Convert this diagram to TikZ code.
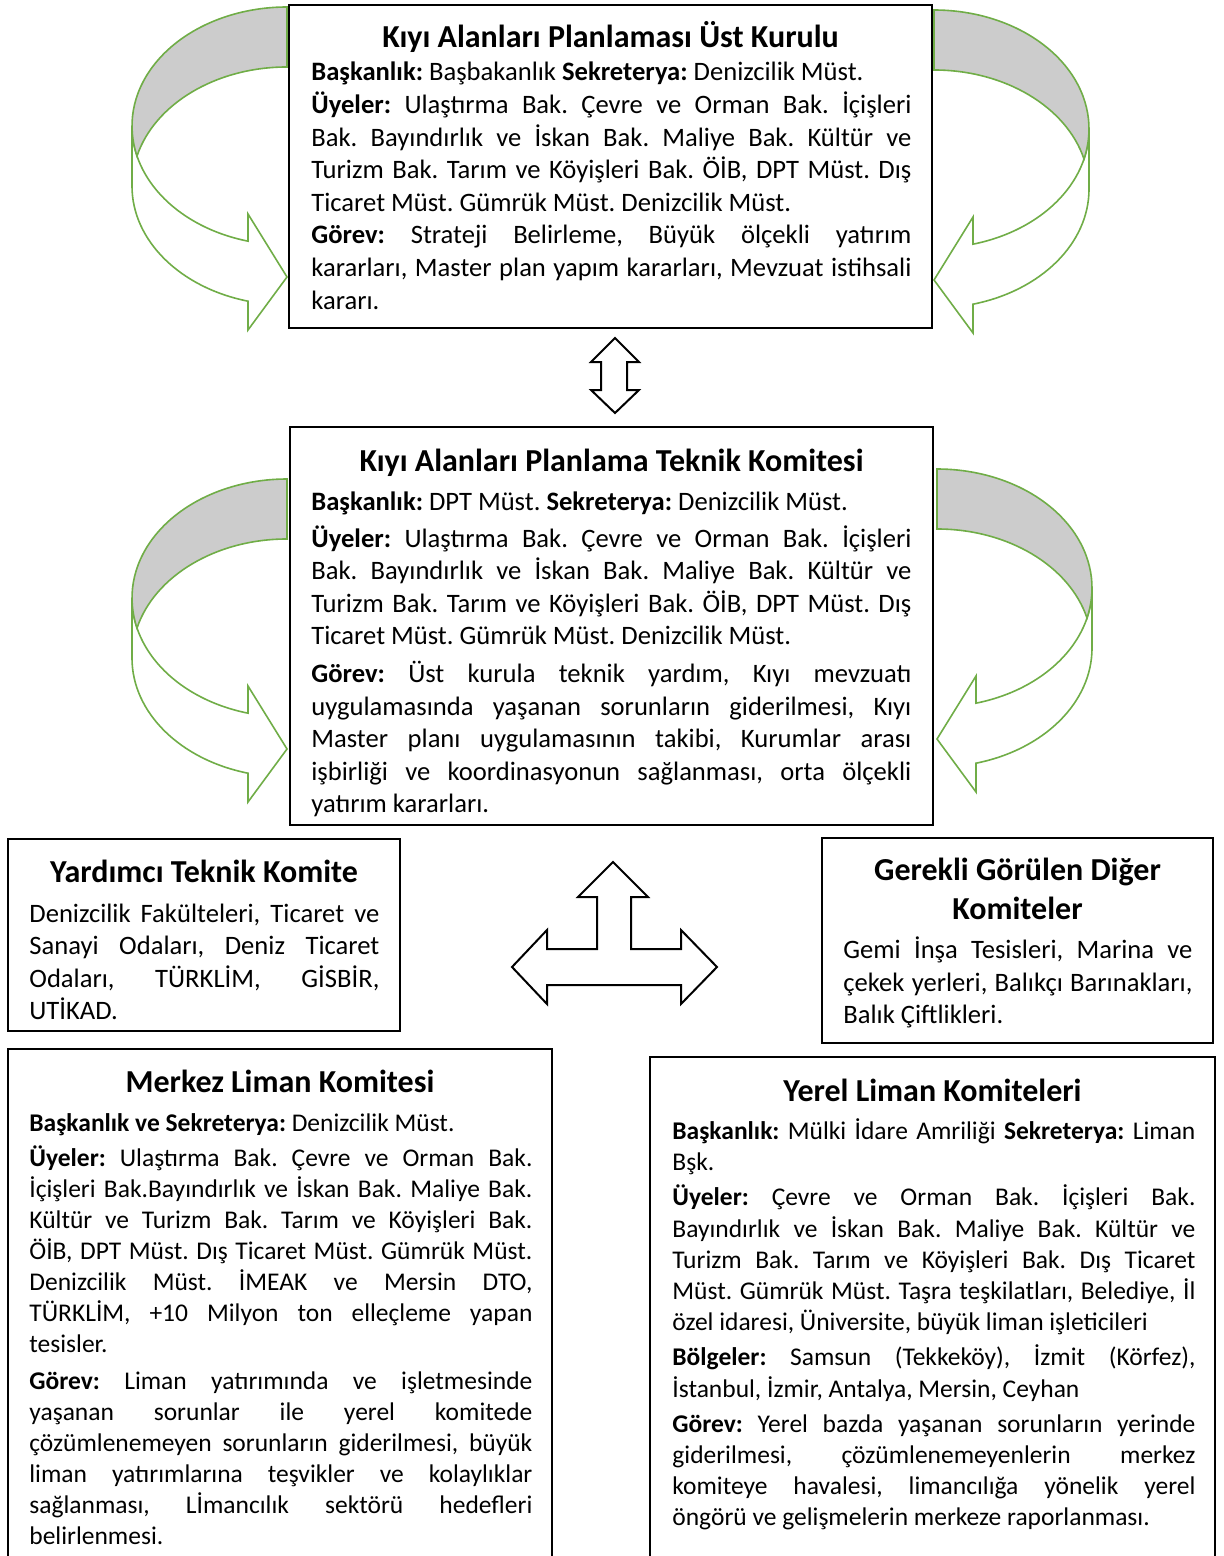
\documentclass[tikz,border=0pt]{standalone}
\usepackage{fontspec}
\setmainfont{Carlito}
\definecolor{arrgreen}{RGB}{112,173,71}
\definecolor{backgray}{RGB}{204,204,204}
\newcommand\JusLine[1]{\hbox to\hsize{#1}}
\newcommand\EndLine[1]{\hbox{#1}}
\newcommand\BodyFont[2]{\frenchspacing\fontsize{#1}{#2}\selectfont}
\tikzset{
  boxn/.style={draw=black, line width=1pt, inner sep=0pt},
  ttl/.style={anchor=base, inner sep=0pt, font=\fontsize{16.0}{20}\selectfont\bfseries},
  txt/.style={anchor=base west, inner sep=0pt},
  curvline/.style={draw=arrgreen, line width=0.8pt, line join=miter},
  blockarrow/.style={draw=black, line width=1pt, fill=white, line join=miter},
}
% curved arrow: #1,#2 = right edge x / top y (px), #3 = +1 (points right) or -1 (mirrored)
\newcommand\CurvArrow[3]{%
  \begin{scope}[shift={(#1,#2)}, xscale=#3]
    \filldraw[curvline, fill=white] (-155,119)
      arc[start angle=180, end angle=104.57, x radius=155, y radius=119]
      -- (-39,207) -- (0,270) -- (-39,323) -- (-39,294.2)
      arc[start angle=104.57, end angle=180, x radius=155, y radius=119]
      -- cycle;
    \filldraw[curvline, fill=backgray] (0,0)
      arc[start angle=270, end angle=165.4, x radius=155, y radius=119]
      arc[start angle=194.6, end angle=270, x radius=155, y radius=119]
      -- cycle;
  \end{scope}}
\begin{document}
\begin{tikzpicture}[x=0.5pt, y=-0.5pt]
\useasboundingbox (0,0) rectangle (1224,1556);
\clip (0,0) rectangle (1224,1556);

% curved arrows
\CurvArrow{287}{7}{1}
\CurvArrow{934}{10}{-1}
\CurvArrow{287}{479}{1}
\CurvArrow{937}{469}{-1}

% boxes
\node[boxn, minimum width=321.5pt, minimum height=161.5pt] (kurul) at (610.5,166.5) {};
\node[boxn, minimum width=321.5pt, minimum height=199pt] (teknik) at (611.5,626) {};
\node[boxn, minimum width=196pt, minimum height=96pt] (yardimci) at (204,935) {};
\node[boxn, minimum width=195.5pt, minimum height=102.5pt] (gerekli) at (1017.5,940.5) {};
\node[boxn, minimum width=272pt, minimum height=275.5pt] (merkez) at (280,1324.5) {};
\node[boxn, minimum width=282.5pt, minimum height=271.5pt] (yerel) at (932.5,1328.5) {};

% block arrows
\draw[blockarrow] (615,338) -- (639,362) -- (627,362) -- (627,390) -- (639,390)
  -- (615,413) -- (591,390) -- (601,390) -- (601,362) -- (591,362) -- cycle;
\draw[blockarrow] (613,862) -- (648,897) -- (631,897) -- (631,949) -- (681,949)
  -- (681,930) -- (717,967) -- (681,1004) -- (681,985) -- (547,985) -- (547,1004)
  -- (512,967) -- (547,930) -- (547,949) -- (597,949) -- (597,897) -- (578,897) -- cycle;

% titles
\node[ttl] (t1) at (610.5,48) {Kıyı Alanları Planlaması Üst Kurulu};
\node[ttl] (t2) at (611.5,471) {Kıyı Alanları Planlama Teknik Komitesi};
\node[ttl] (t3) at (204,882) {Yardımcı Teknik Komite};
\node[ttl] (t4a) at (1017.5,880) {Gerekli Görülen Diğer};
\node[ttl] (t4b) at (1017.5,919) {Komiteler};
\node[ttl] (t5) at (280,1092) {Merkez Liman Komitesi};
\node[ttl] (t6) at (932.5,1101) {Yerel Liman Komiteleri};

% body texts
\node[txt] (x1) at (311,81) {\vtop{\hsize=300pt\BodyFont{13.3}{16.3pt}%
\EndLine{\textbf{Başkanlık:} Başbakanlık \textbf{Sekreterya:} Denizcilik Müst.}
\JusLine{\textbf{Üyeler:} Ulaştırma Bak. Çevre ve Orman Bak. İçişleri}
\JusLine{Bak. Bayındırlık ve İskan Bak. Maliye Bak. Kültür ve}
\JusLine{Turizm Bak. Tarım ve Köyişleri Bak. ÖİB, DPT Müst. Dış}
\EndLine{Ticaret Müst. Gümrük Müst. Denizcilik Müst.}
\JusLine{\textbf{Görev:} Strateji Belirleme, Büyük ölçekli yatırım}
\JusLine{kararları, Master plan yapım kararları, Mevzuat istihsali}
\EndLine{kararı.}}};

\node[txt] (x2) at (311,510.5) {\vtop{\hsize=300pt\BodyFont{13.3}{16.3pt}%
\EndLine{\textbf{Başkanlık:} DPT Müst. \textbf{Sekreterya:} Denizcilik Müst.}
\vskip2pt
\JusLine{\textbf{Üyeler:} Ulaştırma Bak. Çevre ve Orman Bak. İçişleri}
\JusLine{Bak. Bayındırlık ve İskan Bak. Maliye Bak. Kültür ve}
\JusLine{Turizm Bak. Tarım ve Köyişleri Bak. ÖİB, DPT Müst. Dış}
\EndLine{Ticaret Müst. Gümrük Müst. Denizcilik Müst.}
\vskip2.5pt
\JusLine{\textbf{Görev:} Üst kurula teknik yardım, Kıyı mevzuatı}
\JusLine{uygulamasında yaşanan sorunların giderilmesi, Kıyı}
\JusLine{Master planı uygulamasının takibi, Kurumlar arası}
\JusLine{işbirliği ve koordinasyonun sağlanması, orta ölçekli}
\EndLine{yatırım kararları.}}};

\node[txt] (x3) at (29,922.5) {\vtop{\hsize=175pt\BodyFont{13.3}{16.15pt}%
\JusLine{Denizcilik Fakülteleri, Ticaret ve}
\JusLine{Sanayi Odaları, Deniz Ticaret}
\JusLine{Odaları, TÜRKLİM, GİSBİR,}
\EndLine{UTİKAD.}}};

\node[txt] (x4) at (843,958.5) {\vtop{\hsize=174.5pt\BodyFont{13.3}{16.3pt}%
\JusLine{Gemi İnşa Tesisleri, Marina ve}
\JusLine{çekek yerleri, Balıkçı Barınakları,}
\EndLine{Balık Çiftlikleri.}}};

\node[txt] (x5) at (29,1131.5) {\vtop{\hsize=251.5pt\BodyFont{12.75}{15.5pt}%
\EndLine{\textbf{Başkanlık ve Sekreterya:} Denizcilik Müst.}
\vskip2pt
\JusLine{\textbf{Üyeler:} Ulaştırma Bak. Çevre ve Orman Bak.}
\JusLine{İçişleri Bak.Bayındırlık ve İskan Bak. Maliye Bak.}
\JusLine{Kültür ve Turizm Bak. Tarım ve Köyişleri Bak.}
\JusLine{ÖİB, DPT Müst. Dış Ticaret Müst. Gümrük Müst.}
\JusLine{Denizcilik Müst. İMEAK ve Mersin DTO,}
\JusLine{TÜRKLİM, +10 Milyon ton elleçleme yapan}
\EndLine{tesisler.}
\vskip3pt
\JusLine{\textbf{Görev:} Liman yatırımında ve işletmesinde}
\JusLine{yaşanan sorunlar ile yerel komitede}
\JusLine{çözümlenemeyen sorunların giderilmesi, büyük}
\JusLine{liman yatırımlarına teşvikler ve kolaylıklar}
\JusLine{sağlanması, Lİmancılık sektörü hedefleri}
\EndLine{belirlenmesi.}}};

\node[txt] (x6) at (672,1139.5) {\vtop{\hsize=261.5pt\BodyFont{12.75}{15.6pt}%
\JusLine{\textbf{Başkanlık:} Mülki İdare Amriliği \textbf{Sekreterya:} Liman}
\EndLine{Bşk.}
\vskip2pt
\JusLine{\textbf{Üyeler:} Çevre ve Orman Bak. İçişleri Bak.}
\JusLine{Bayındırlık ve İskan Bak. Maliye Bak. Kültür ve}
\JusLine{Turizm Bak. Tarım ve Köyişleri Bak. Dış Ticaret}
\JusLine{Müst. Gümrük Müst. Taşra teşkilatları, Belediye, İl}
\EndLine{özel idaresi, Üniversite, büyük liman işleticileri}
\vskip2pt
\JusLine{\textbf{Bölgeler:} Samsun (Tekkeköy), İzmit (Körfez),}
\EndLine{İstanbul, İzmir, Antalya, Mersin, Ceyhan}
\vskip2pt
\JusLine{\textbf{Görev:} Yerel bazda yaşanan sorunların yerinde}
\JusLine{giderilmesi, çözümlenemeyenlerin merkez}
\JusLine{komiteye havalesi, limancılığa yönelik yerel}
\EndLine{öngörü ve gelişmelerin merkeze raporlanması.}}};
\end{tikzpicture}
\end{document}
